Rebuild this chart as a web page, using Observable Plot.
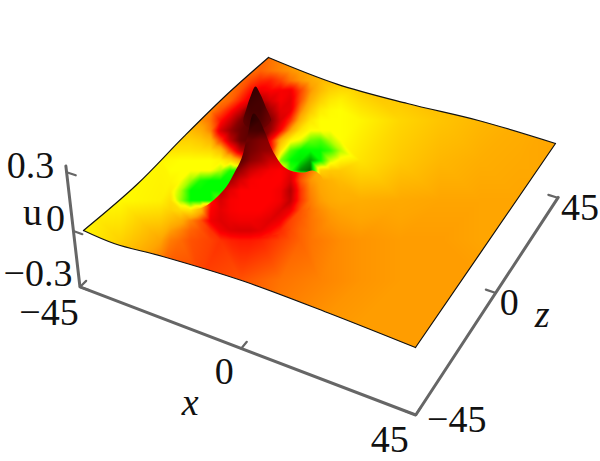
<!DOCTYPE html>
<html><head><meta charset="utf-8">
<style>html,body{margin:0;padding:0;background:#fff}svg{display:block}</style>
<script src="https://cdn.jsdelivr.net/npm/d3@7"></script>
<script src="https://cdn.jsdelivr.net/npm/@observablehq/plot@0.6"></script>
</head><body><div id="chart"></div>
<script>
// Colour tone levels of the surface
const toneLevels = [-2, -1, 0, 1, 2, 3, 4];
const toneColors = ["#004000", "#00ff00", "#ffff00", "#ffa500", "#ff0000", "#800000", "#200000"];

// Coarse reading of the whole sheet
const coarseCols = [80,120,160,200,240,280,320,360,400,440,480,520,560];
const coarseRows = [40,80,120,160,200,240,280,320,360];
const coarseTone = [
 [1,1,1,1,1.2,1.2,1,.9,.9,.9,.9,.95,1],
 [.5,.6,.8,null,null,null,null,.7,.75,.8,.85,.9,1],
 [.2,.4,.6,null,null,null,null,.1,.45,.65,.8,.9,1],
 [0,.05,.1,null,null,null,null,.3,.6,.8,.9,.95,1],
 [0,.05,.15,null,null,null,null,.9,.95,1,1,1,1],
 [.1,.5,1,null,null,null,null,1.1,1.05,1.05,1,1,1],
 [.6,1,1.5,1.6,1.5,1.3,1.2,1.1,1.05,1.05,1.05,1,1],
 [1,1.2,1.4,1.5,1.4,1.2,1.1,1.05,1.05,1.05,1.05,1,1],
 [1.05,1.05,1.05,1.05,1.05,1.05,1.05,1.05,1.05,1.05,1.05,1,1]
];

// Finer reading around the hump
const fineCols = [170,180,190,200,210,220,230,240,250,260,270,280,290,300,310,320,330,340];
const fineRows = [70,80,90,100,110,120,130,140,150,160,170,180,190,200,210,220,230,240];
const fineTone = [
 [1,1,1,1,1,1.1,1.2,1.3,1.3,1.4,1.3,1.2,1.1,1,.95,.9,.85,.8],
 [1,1,1,1,1,1.1,1.2,1.35,1.55,1.75,1.8,1.6,1.3,1.1,.95,.8,.75,.7],
 [1,1,1,1,1.05,1.15,1.3,1.5,1.9,2.1,2,2.05,2.1,1.6,1.1,.75,.5,.4],
 [1,.95,.95,1,1.1,1.25,1.4,1.8,2.2,2.6,2.3,2.05,2.2,1.5,.9,.5,.25,.15],
 [.8,.85,.9,1,1.2,1.5,1.9,2.4,3.2,3.3,2.7,2.2,2.15,1.2,.6,.2,.05,0],
 [.7,.8,.9,1.1,1.3,1.9,2.4,3,3.4,3.4,3,2.3,1.7,.8,.25,0,0,0],
 [.6,.65,.75,.9,1.2,2.3,2.8,3.2,3.4,3.2,2.8,2,1,.3,0,0,0,0],
 [.5,.5,.5,.6,.8,1.6,2.5,3.2,3.4,3.2,2,.8,.1,-.1,-.6,-.7,-.3,0],
 [.3,.3,.3,.35,.4,.7,1.6,2.5,3,3,2,.3,-.7,-1,-1,-1,-.8,-.3],
 [.05,0,0,0,0,.1,.4,1,2,2.5,1.5,-.5,-1,-1.1,-1.5,-1,-.2,.1],
 [0,0,0,0,0,-.3,-.9,-.9,-.5,1,1,.3,-.8,-1.6,-1.8,.5,.6,.6],
 [.1,0,-.4,-.9,-1,-1,-1,-1,-.5,.5,1,2,2.3,1.5,1.1,.95,.85,.75],
 [.2,-.3,-1,-1,-1,-1,-1,0,1,1.5,1.6,1.6,2.6,1.7,1.2,1,.9,.85],
 [.35,-.4,-1,-1,-1,-.6,0,1,1.5,1.7,1.7,1.7,2.5,1.7,1.25,1.05,.95,.9],
 [.5,.4,.3,.8,2,2.2,2.05,2,2,2,2.1,2.3,2.1,1.5,1.3,1.15,1.05,1],
 [.75,.9,1.2,1.5,2.1,2.25,2.15,2.1,2.1,2.15,2.25,2.1,1.6,1.45,1.3,1.2,1.1,1.05],
 [1.05,1.2,1.4,1.5,1.7,2.1,2.25,2.3,2.3,2.2,2,1.75,1.55,1.4,1.3,1.2,1.15,1.1],
 [1.25,1.35,1.5,1.55,1.6,1.7,1.8,1.85,1.85,1.8,1.7,1.6,1.5,1.4,1.3,1.25,1.2,1.15]
];

// Front face of the hump, which hides what lies behind it
const ridgeCols = [190,200,210,220,230,240,250,260,270,280,290,300,310,320,330];
const ridgeRows = [100,110,120,130,140,150,160,170,180,190,200,210,220,230,240];
const ridgeTone = [
 [3.9,3.9,3.9,3.9,3.9,3.9,3.9,3.9,3.9,3.9,3.9,3.9,3.9,3.9,3.9],
 [3.9,3.9,3.9,3.9,3.9,3.9,3.9,3.9,3.9,3.9,3.9,3.9,3.9,3.9,3.9],
 [3.7,3.7,3.7,3.7,3.7,3.7,3.9,3.7,3.7,3.7,3.7,3.7,3.7,3.7,3.7],
 [3.6,3.6,3.6,3.6,3.6,3.6,3.6,3.6,3.6,3.6,3.6,3.6,3.6,3.6,3.6],
 [3.3,3.3,3.3,3.3,3.3,3.1,3.2,3,2.9,2.9,2.9,2.9,2.9,2.9,2.9],
 [3.4,3.4,3.4,3.4,3.4,3.4,3.1,2.9,2.8,2.8,2.8,2.8,2.8,2.8,2.8],
 [3.4,3.4,3.4,3.4,3.4,3.4,2.9,2.7,2.4,2.3,2.3,2.3,2.3,2.3,2.3],
 [3.2,3.2,3.2,3.2,3.2,2.8,2.4,2.2,2.05,2,2.2,1.7,1.3,.9,.7],
 [1,2,3,3,2.7,2.3,2.05,2,2,2,2.3,1.5,1.1,.95,.85],
 [.3,.5,1.9,2.6,2.2,2,2,2,2,2.1,2.6,1.7,1.2,1,.9],
 [.3,.5,1.9,2.3,2.05,2,2,2,2,2.1,2.5,1.7,1.25,1.05,.95],
 [.3,.8,2,2.2,2.05,2,2,2,2.1,2.3,2.1,1.5,1.3,1.15,1.05],
 [1.2,1.5,2.1,2.25,2.15,2.1,2.1,2.15,2.25,2.1,1.6,1.45,1.3,1.2,1.1],
 [1.4,1.5,1.7,2.1,2.25,2.3,2.3,2.2,2,1.75,1.55,1.4,1.3,1.2,1.15],
 [1.5,1.55,1.6,1.7,1.8,1.85,1.85,1.8,1.7,1.6,1.5,1.4,1.3,1.25,1.2]
];
// Silhouette of that front face, in picture coordinates
const ridgeEdgeX = [253,247,241,234,226,216,206,196,191,192,215,250,290,310,322,322,317,312,303,293,283,272,265,258];
const ridgeEdgeY = [113,135,158,172,186,197,205,209,210,216,232,238,228,205,188,178,172,170,172,171,166,150,133,118];

// Back cone of the hump with its sharp tip
const coneCols = [240,250,260,270];
const coneRows = [80,90,100,110,120,130];
const coneTone = [
 [3.8,3.8,3.8,3.8],
 [3.8,3.8,3.7,3.6],
 [3.6,3.7,3.6,3.4],
 [3.4,3.6,3.6,3.2],
 [3.3,3.5,3.5,3.1],
 [3.3,3.4,3.3,3]
];
const coneEdgeX = [255,250,246,243,250,262,270,265,260];
const coneEdgeY = [86,96,108,122,128,128,120,106,94];

// Sheet outline: height read along each edge
const edgeFrontX = [-45,-36,-22.5,0,22.5,45];
const edgeFrontU = [0,-.012,.01,.03,.02,0];
const edgeRightZ = [-45,45];
const edgeRightU = [0,0];
const edgeBackX = [45,22.5,0,-22.5,-45];
const edgeBackU = [0,0,-.025,-.035,0];
const edgeLeftZ = [45,22.5,0,-22.5,-45];
const edgeLeftU = [0,.01,0,-.02,0];

// Axes
const ticks = [-45, 0, 45];
const uTicks = [-0.3, 0, 0.3];
const xLabels = [{v:-45,t:"\u221245",dx:-31,dy:26},{v:0,t:"0",dx:-17,dy:23},{v:45,t:"45",dx:-26,dy:25}];
const zLabels = [{v:-45,t:"\u221245",dx:41,dy:5},{v:0,t:"0",dx:14,dy:10},{v:45,t:"45",dx:23,dy:10}];
const uLabels = [{v:-0.3,t:"\u22120.3",dx:-42,dy:-13},{v:0,t:"0",dx:-18,dy:-12},{v:0.3,t:"0.3",dx:-36,dy:-6}];

// Viewing transform of the 3D box
function project(x, z, u = 0) {
  const s = (x + 45) / 90, t = (z + 45) / 90;
  const w = -0.0712 * s + 0.1915 * t + 1 - 0.087 * u;
  return [
    (302.45 * s + 236.3 * t + 83 - 28.6 * u) / w,
    (92.3 * s - 162.1 * t + 230 - 211 * u) / w
  ];
}
const P = (x, z, u) => { const [a, b] = project(x, z, u); return {a, b}; };

const lattice = (cols, rows, tone) => rows.flatMap((y, j) => cols.flatMap((x, i) =>
  tone[j][i] == null ? [] : [{x, y, tone: tone[j][i]}]));
const surfacePts = [...lattice(coarseCols, coarseRows, coarseTone), ...lattice(fineCols, fineRows, fineTone)];
const ridgePts = lattice(ridgeCols, ridgeRows, ridgeTone);
const conePts = lattice(coneCols, coneRows, coneTone);

const edges = [
  edgeFrontX.map((x, i) => P(x, -45, edgeFrontU[i])),
  edgeRightZ.map((z, i) => P(45, z, edgeRightU[i])),
  edgeBackX.map((x, i) => P(x, 45, edgeBackU[i])),
  edgeLeftZ.map((z, i) => P(-45, z, edgeLeftU[i]))
];
const edgeRows = edges.flatMap((e, k) => e.map(p => ({...p, k})));

// axes (box margin outside the sheet)
const mX = -47, mZ = -46.3, cZ = -47.8, base = -0.3, zx = 47;
const axisZ = x => mZ + (cZ - mZ) * (x - mX) / (zx - mX);
const axisRows = [
  {...P(mX, mZ, 0.33)}, {...P(mX, mZ, base)},
  {...P(zx, cZ, base)}, {...P(zx + .3, 45.2, base)}
];
const tl = 2.6;
const xAt = v => v === -45 ? mX : v === 45 ? zx : v;
const zAt = v => v === -45 ? cZ : v;
const tickRows = [
  ...ticks.flatMap((v, i) => [{...P(xAt(v), axisZ(xAt(v)), base), k: "x" + i}, {...P(xAt(v), axisZ(xAt(v)) + tl, base), k: "x" + i}]),
  ...ticks.flatMap((v, i) => [{...P(zx, zAt(v), base), k: "z" + i}, {...P(zx - tl, zAt(v), base), k: "z" + i}]),
  ...uTicks.map((v, i) => [{...P(mX, mZ, v), k: "u" + i}, {...P(mX + tl, mZ, v), k: "u" + i}]).flat()
];
const labelRows = [
  ...xLabels.map(l => ({...P(xAt(l.v), axisZ(xAt(l.v)), base), ...l})),
  ...zLabels.map(l => ({...P(zx, zAt(l.v), base), ...l})),
  ...uLabels.map(l => ({...P(mX, mZ, l.v), ...l}))
];
const label = (rows, opts) => rows.map(l => Plot.text([l], {x: "a", y: "b", text: "t", dx: l.dx, dy: l.dy, ...opts}));
const font = {fontFamily: "Liberation Serif", fontSize: 38, fill: "#111", textAnchor: "middle", lineAnchor: "middle"};

const rasterOpts = {x: "x", y: "y", fill: "tone", interpolate: "barycentric", x1: 0, y1: 0, x2: 600, y2: 461, pixelSize: 1};
const plot = Plot.plot({
  width: 600, height: 461, margin: 0,
  style: {background: "#fff"},
  x: {domain: [0, 600], range: [0, 600], axis: null},
  y: {domain: [0, 461], range: [0, 461], axis: null},
  color: {type: "linear", domain: toneLevels, range: toneColors, clamp: true},
  marks: [
    Plot.raster(surfacePts, rasterOpts),
    Plot.raster(conePts, rasterOpts),
    Plot.raster(ridgePts, rasterOpts),
    Plot.line(edgeRows, {x: "a", y: "b", z: "k", stroke: "#111", strokeWidth: 1.2, curve: "catmull-rom"}),
    Plot.line(axisRows, {x: "a", y: "b", stroke: "#666", strokeWidth: 3, strokeLinejoin: "miter"}),
    Plot.line(tickRows, {x: "a", y: "b", z: "k", stroke: "#666", strokeWidth: 2.2}),
    ...label(labelRows, font),
    Plot.text([{...P(-10, mZ, base), t: "x"}], {x: "a", y: "b", text: "t", dx: -17, dy: 69, ...font, fontStyle: "italic"}),
    Plot.text([{...P(zx, 0, base), t: "z"}], {x: "a", y: "b", text: "t", dx: 47, dy: 22, ...font, fontStyle: "italic"}),
    Plot.text([{...P(mX, mZ, 0), t: "u"}], {x: "a", y: "b", text: "t", dx: -41, dy: -18, ...font})
  ]
});

// Clip each raster to the shape it paints
const sx = plot.scale("x"), sy = plot.scale("y");
const lineFn = d3.line().x(p => sx.apply(p.a)).y(p => sy.apply(p.b));
const sheetPath = edges.map((e, i) => { const d = lineFn.curve(d3.curveCatmullRom)(e); return i ? "L" + d.slice(1) : d; }).join("") + "Z";
const closed = (xs, ys) => lineFn.curve(d3.curveCatmullRomClosed)(xs.map((a, i) => ({a, b: ys[i]})));
const svg = d3.select(plot);
const defs = svg.insert("defs", ":first-child");
defs.append("clipPath").attr("id", "sheetClip").append("path").attr("d", sheetPath);
defs.append("clipPath").attr("id", "coneClip").append("path").attr("d", closed(coneEdgeX, coneEdgeY));
defs.append("clipPath").attr("id", "ridgeClip").append("path").attr("d", closed(ridgeEdgeX, ridgeEdgeY));
const images = svg.selectAll("image").nodes();
d3.select(images[0]).attr("clip-path", "url(#sheetClip)");
d3.select(images[1]).attr("clip-path", "url(#coneClip)");
d3.select(images[2]).attr("clip-path", "url(#ridgeClip)");
document.getElementById("chart").append(plot);
</script></body></html>
